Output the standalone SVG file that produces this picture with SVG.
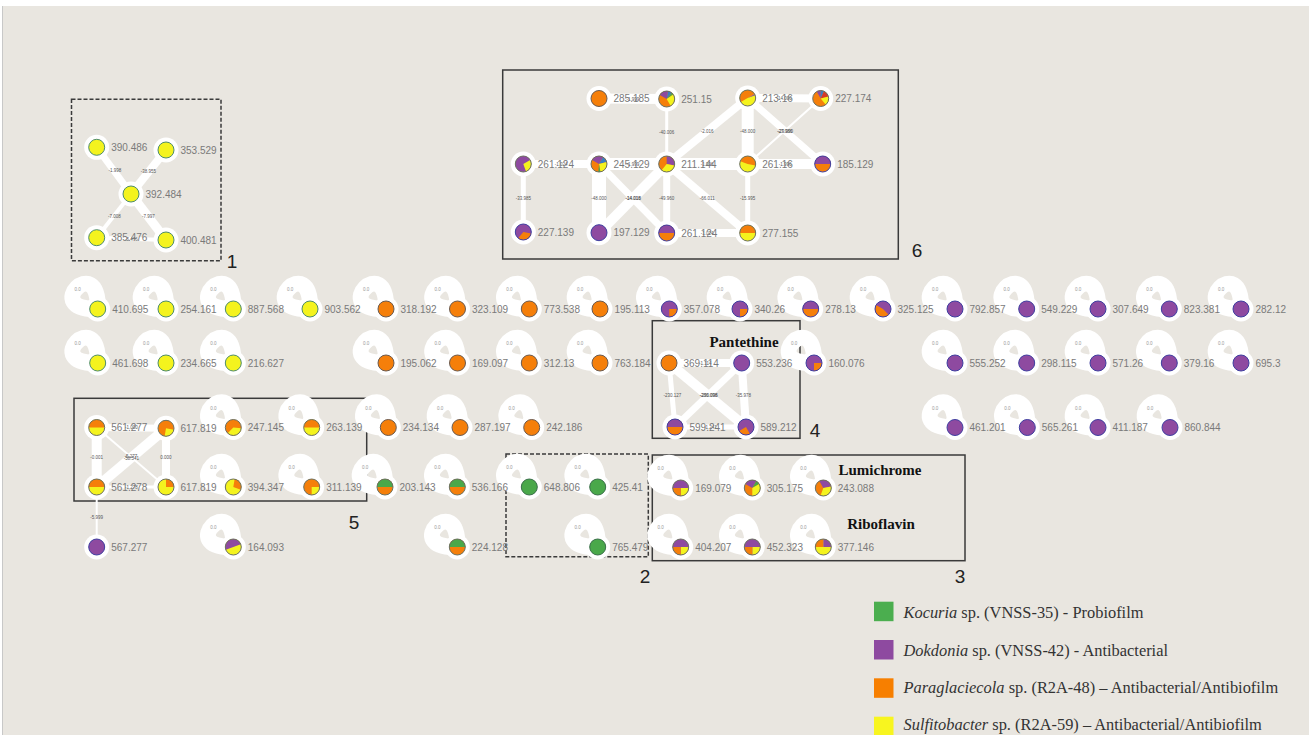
<svg xmlns="http://www.w3.org/2000/svg" xmlns:xlink="http://www.w3.org/1999/xlink" width="1309" height="735" viewBox="0 0 1309 735">
<style>
.lbl{font-family:"Liberation Sans",Arial,sans-serif;font-size:10px;fill:#7a7a7a}
.el{font-family:"Liberation Sans",Arial,sans-serif;font-size:4.5px;fill:#555;text-anchor:middle}
.ll{font-family:"Liberation Sans",Arial,sans-serif;font-size:4.5px;fill:#999;text-anchor:middle}
.e line{stroke:#fff;fill:none}
.loopP{stroke:#fff;stroke-width:16;fill:none}
.halo{fill:#fff}
.box{fill:none;stroke:#3a3a3a;stroke-width:1.5}
.dbox{fill:none;stroke:#3a3a3a;stroke-width:1.5;stroke-dasharray:4 2}
.num{font-family:"Liberation Sans",Arial,sans-serif;font-size:19px;fill:#222;text-anchor:middle}
.title{font-family:"Liberation Serif","Times New Roman",serif;font-weight:bold;font-size:15px;fill:#111;text-anchor:middle}
.leg{font-family:"Liberation Serif","Times New Roman",serif;font-size:16.4px;fill:#333}
.O{fill:#f57f0a}.P{fill:#8e4aa0}.Y{fill:#f4f31e}.G{fill:#4aa84a}.B{fill:#3b7ec0}.R{fill:#d43a2a}
.oY{fill:none;stroke:#4d8c6c;stroke-width:1}
.oO{fill:none;stroke:#6a5a50;stroke-width:1}
.oP{fill:none;stroke:#3e3ea0;stroke-width:1}
.oG{fill:none;stroke:#3a6f4a;stroke-width:1}
.oM{fill:none;stroke:#6b7060;stroke-width:1}
</style>
<defs>
<g id="loop"><path class="loopP" d="M0,0 C2,-58 -58,2 0,0"/><text class="ll" x="-20" y="-18">0.0</text></g>
<g id="pY"><circle class="halo" r="12.5"/><circle class="Y" r="8"/><circle class="oY" r="8"/></g>
<g id="pO"><circle class="halo" r="12.5"/><circle class="O" r="8"/><circle class="oO" r="8"/></g>
<g id="pP"><circle class="halo" r="12.5"/><circle class="P" r="8"/><circle class="oP" r="8"/></g>
<g id="pG"><circle class="halo" r="12.5"/><circle class="G" r="8"/><circle class="oG" r="8"/></g>
<g id="pOY"><circle class="halo" r="12.5"/><circle class="Y" r="8"/><path class="O" d="M-8,0A8,8 0 0 1 8,0Z"/><circle class="oM" r="8"/></g>
<g id="pPO"><circle class="halo" r="12.5"/><circle class="O" r="8"/><path class="P" d="M-8,0A8,8 0 0 1 8,0Z"/><circle class="oP" r="8"/></g>
<g id="pGO"><circle class="halo" r="12.5"/><circle class="O" r="8"/><path class="G" d="M-8,0A8,8 0 0 1 8,0Z"/><circle class="oM" r="8"/></g>
<g id="pPq"><circle class="halo" r="12.5"/><circle class="P" r="8"/><path class="O" d="M0,0L8,0A8,8 0 0 1 0,8Z"/><circle class="oP" r="8"/></g>
<g id="pPq2"><circle class="halo" r="12.5"/><circle class="P" r="8"/><path class="O" d="M0,0L4,6.93A8,8 0 0 1 -6.93,4Z"/><circle class="oP" r="8"/></g>
<g id="p325"><circle class="halo" r="12.5"/><circle class="P" r="8"/><path class="O" d="M0,0L5.66,5.66A8,8 0 0 1 -6.93,-4Z"/><circle class="oP" r="8"/></g>
<g id="p227139"><circle class="halo" r="12.5"/><circle class="P" r="8"/><path class="O" d="M0,0L7.88,1.39A8,8 0 0 1 -5.14,6.13Z"/><circle class="oP" r="8"/></g>
<g id="p261L"><circle class="halo" r="12.5"/><circle class="P" r="8"/><path class="Y" d="M0,0L6.93,-4A8,8 0 0 1 2.74,7.52Z"/><circle class="oM" r="8"/></g>
<g id="p245"><circle class="halo" r="12.5"/><circle class="O" r="8"/><path class="P" d="M0,0L-6.93,-4A8,8 0 0 1 4,-6.93Z"/><path class="B" d="M0,0L4,-6.93A8,8 0 0 1 7.73,-2.07Z"/><path class="Y" d="M0,0L7.73,-2.07A8,8 0 0 1 1.39,7.88Z"/><path class="G" d="M0,0L1.39,7.88A8,8 0 0 1 -0.7,7.97Z"/><circle class="oM" r="8"/></g>
<g id="p251"><circle class="halo" r="12.5"/><circle class="O" r="8"/><path class="P" d="M0,0L-6.93,-4A8,8 0 0 1 1.39,-7.88Z"/><path class="B" d="M0,0L1.39,-7.88A8,8 0 0 1 5.14,-6.13Z"/><path class="G" d="M0,0L5.14,-6.13A8,8 0 0 1 6.55,-4.59Z"/><path class="Y" d="M0,0L6.55,-4.59A8,8 0 0 1 4,6.93Z"/><circle class="oM" r="8"/></g>
<g id="p211"><circle class="halo" r="12.5"/><circle class="O" r="8"/><path class="P" d="M0,0L0,-8A8,8 0 0 1 7.88,1.39Z"/><path class="Y" d="M0,0L7.88,1.39A8,8 0 0 1 -5.14,6.13Z"/><circle class="oM" r="8"/></g>
<g id="p213"><circle class="halo" r="12.5"/><circle class="Y" r="8"/><path class="O" d="M0,0L-6.93,4A8,8 0 0 1 6.93,-4Z"/><path class="P" d="M0,0L6.93,-4A8,8 0 0 1 7.52,-2.74Z"/><circle class="oM" r="8"/></g>
<g id="p227174"><circle class="halo" r="12.5"/><circle class="O" r="8"/><path class="P" d="M0,0L-4,-6.93A8,8 0 0 1 0,-8Z"/><path class="B" d="M0,0L0,-8A8,8 0 0 1 3.38,-7.25Z"/><path class="R" d="M0,0L3.38,-7.25A8,8 0 0 1 7.73,-2.07Z"/><path class="Y" d="M0,0L7.73,-2.07A8,8 0 0 1 5.14,6.13Z"/><circle class="oM" r="8"/></g>
<g id="p261M"><circle class="halo" r="12.5"/><circle class="Y" r="8"/><path class="O" d="M0,0L-7.52,-2.74A8,8 0 0 1 7.88,1.39Z"/><circle class="oM" r="8"/></g>
<g id="p617T"><circle class="halo" r="12.5"/><circle class="O" r="8"/><path class="Y" d="M0,0L7.88,1.39A8,8 0 0 1 -1.39,7.88Z"/><circle class="oM" r="8"/></g>
<g id="p617B"><circle class="halo" r="12.5"/><circle class="Y" r="8"/><path class="O" d="M0,0L0,-8A8,8 0 0 1 8,0Z"/><circle class="oM" r="8"/></g>
<g id="p247"><circle class="halo" r="12.5"/><circle class="O" r="8"/><path class="Y" d="M0,0L7.97,0.7A8,8 0 0 1 -5.66,5.66Z"/><circle class="oM" r="8"/></g>
<g id="p394"><circle class="halo" r="12.5"/><circle class="Y" r="8"/><path class="O" d="M0,0L1.39,-7.88A8,8 0 0 1 7.52,2.74Z"/><circle class="oM" r="8"/></g>
<g id="p311"><circle class="halo" r="12.5"/><circle class="O" r="8"/><path class="Y" d="M0,0L8,0A8,8 0 0 1 0,8Z"/><circle class="oM" r="8"/></g>
<g id="p164"><circle class="halo" r="12.5"/><circle class="Y" r="8"/><path class="P" d="M0,0L-7.52,2.74A8,8 0 0 1 7.52,-2.74Z"/><circle class="oM" r="8"/></g>
<g id="pPYO"><circle class="halo" r="12.5"/><circle class="P" r="8"/><path class="Y" d="M0,0L8,0A8,8 0 0 1 0,8Z"/><path class="O" d="M0,0L0,8A8,8 0 0 1 -8,0Z"/><circle class="oM" r="8"/></g>
<g id="p305"><circle class="halo" r="12.5"/><circle class="O" r="8"/><path class="P" d="M0,0L-6.93,-4A8,8 0 0 1 4,-6.93Z"/><path class="G" d="M0,0L4,-6.93A8,8 0 0 1 6.93,-4Z"/><path class="Y" d="M0,0L6.93,-4A8,8 0 0 1 0,8Z"/><circle class="oM" r="8"/></g>
<g id="p243"><circle class="halo" r="12.5"/><circle class="O" r="8"/><path class="P" d="M0,0L-4,-6.93A8,8 0 0 1 7.88,-1.39Z"/><path class="Y" d="M0,0L7.88,-1.39A8,8 0 0 1 -2.74,7.52Z"/><circle class="oM" r="8"/></g>
<g id="p377"><circle class="halo" r="12.5"/><circle class="Y" r="8"/><path class="O" d="M0,0L-8,0A8,8 0 0 1 0,-8Z"/><path class="P" d="M0,0L0,-8A8,8 0 0 1 8,0Z"/><circle class="oM" r="8"/></g>
</defs>

<rect x="0" y="0" width="1309" height="735" fill="#ffffff"/>
<rect x="2" y="6" width="1307" height="729" fill="#e9e6e0"/>
<line x1="2.5" y1="6" x2="2.5" y2="735" stroke="#c8c8c8" stroke-width="1"/>

<g id="boxes">
<rect class="dbox" x="71.5" y="99.3" width="149.5" height="161.4"/>
<rect class="box" x="502.7" y="70" width="395.6" height="189"/>
<rect class="box" x="652.3" y="320.7" width="147.7" height="117.6"/>
<rect class="box" x="74" y="398.3" width="292.7" height="102.7"/>
<rect class="dbox" x="506" y="454" width="142.3" height="102.7"/>
<rect class="box" x="652.3" y="455" width="312.7" height="105.7"/>
<text class="num" x="232" y="268">1</text>
<text class="num" x="645" y="583">2</text>
<text class="num" x="960" y="583">3</text>
<text class="num" x="815" y="437">4</text>
<text class="num" x="354" y="529">5</text>
<text class="num" x="917" y="257">6</text>
<text class="title" x="744" y="347">Pantethine</text>
<text class="title" x="880" y="474.5">Lumichrome</text>
<text class="title" x="881" y="529">Riboflavin</text>
</g>

<g id="connectors" class="e">
<!-- box 1 -->
<line x1="96.7" y1="147.3" x2="131" y2="194" stroke-width="7"/>
<line x1="166" y1="150" x2="131" y2="194" stroke-width="8"/>
<line x1="131" y1="194" x2="96.7" y2="237.7" stroke-width="4"/>
<line x1="131" y1="194" x2="166" y2="240" stroke-width="9"/>
<line x1="96.7" y1="237.7" x2="166" y2="240" stroke-width="4"/>
<!-- box 6 -->
<line x1="599" y1="98.5" x2="666.7" y2="99" stroke-width="10"/>
<line x1="666.7" y1="99" x2="666.7" y2="164" stroke-width="3"/>
<line x1="523.3" y1="164" x2="599" y2="164" stroke-width="8"/>
<line x1="599" y1="164" x2="666.7" y2="164" stroke-width="12"/>
<line x1="523.3" y1="164" x2="523.3" y2="232" stroke-width="5"/>
<line x1="599" y1="164" x2="599" y2="232.7" stroke-width="14"/>
<line x1="599" y1="164" x2="666.7" y2="233" stroke-width="7"/>
<line x1="666.7" y1="164" x2="599" y2="232.7" stroke-width="10"/>
<line x1="666.7" y1="164" x2="666.7" y2="233" stroke-width="7"/>
<line x1="666.7" y1="164" x2="747.7" y2="98" stroke-width="8"/>
<line x1="666.7" y1="164" x2="747.7" y2="164" stroke-width="12"/>
<line x1="666.7" y1="164" x2="747.7" y2="233" stroke-width="8"/>
<line x1="747.7" y1="98" x2="747.7" y2="164" stroke-width="12"/>
<line x1="747.7" y1="98" x2="820.7" y2="98.5" stroke-width="8"/>
<line x1="747.7" y1="98" x2="822.7" y2="164" stroke-width="7"/>
<line x1="820.7" y1="98.5" x2="747.7" y2="164" stroke-width="2"/>
<line x1="747.7" y1="164" x2="822.7" y2="164" stroke-width="10"/>
<line x1="747.7" y1="164" x2="747.7" y2="233" stroke-width="5"/>
<line x1="666.7" y1="233" x2="747.7" y2="233" stroke-width="8"/>
<!-- box 4 -->
<line x1="669" y1="363" x2="741.7" y2="363" stroke-width="8"/>
<line x1="669" y1="363" x2="675" y2="427" stroke-width="5"/>
<line x1="669" y1="363" x2="746" y2="427" stroke-width="10"/>
<line x1="741.7" y1="363" x2="675" y2="427" stroke-width="7"/>
<line x1="741.7" y1="363" x2="746" y2="427" stroke-width="8"/>
<line x1="675" y1="427" x2="746" y2="427" stroke-width="5"/>
<!-- box 5 -->
<line x1="96.7" y1="427.5" x2="166" y2="428.3" stroke-width="7"/>
<line x1="96.7" y1="427.5" x2="96.7" y2="487" stroke-width="10"/>
<line x1="96.7" y1="427.5" x2="166" y2="487" stroke-width="2"/>
<line x1="166" y1="428.3" x2="96.7" y2="487" stroke-width="10"/>
<line x1="166" y1="428.3" x2="166" y2="487" stroke-width="8"/>
<line x1="96.7" y1="487" x2="166" y2="487" stroke-width="3"/>
<line x1="96.7" y1="487" x2="96.7" y2="547" stroke-width="2"/>
<!-- self loops -->
<use href="#loop" x="97.7" y="309"/><use href="#loop" x="166" y="309"/><use href="#loop" x="233.3" y="309"/><use href="#loop" x="310" y="309"/><use href="#loop" x="386" y="309"/><use href="#loop" x="457.5" y="309"/><use href="#loop" x="529.3" y="309"/><use href="#loop" x="600" y="309"/><use href="#loop" x="669.3" y="309"/><use href="#loop" x="740" y="309"/><use href="#loop" x="810.7" y="309"/><use href="#loop" x="883" y="309"/><use href="#loop" x="955" y="309"/><use href="#loop" x="1026.7" y="309"/><use href="#loop" x="1098" y="309"/><use href="#loop" x="1169.3" y="309"/><use href="#loop" x="1241" y="309"/>
<use href="#loop" x="97.7" y="363"/><use href="#loop" x="166" y="363"/><use href="#loop" x="233.3" y="363"/><use href="#loop" x="386" y="363"/><use href="#loop" x="457.5" y="363"/><use href="#loop" x="529.3" y="363"/><use href="#loop" x="600" y="363"/><use href="#loop" x="814" y="363"/><use href="#loop" x="955" y="363"/><use href="#loop" x="1026.7" y="363"/><use href="#loop" x="1098" y="363"/><use href="#loop" x="1169.3" y="363"/><use href="#loop" x="1241" y="363"/>
<use href="#loop" x="233.3" y="427.5"/><use href="#loop" x="311.7" y="427.5"/><use href="#loop" x="388.3" y="427.5"/><use href="#loop" x="460" y="427.5"/><use href="#loop" x="531.7" y="427.5"/><use href="#loop" x="955" y="427.5"/><use href="#loop" x="1027.3" y="427.5"/><use href="#loop" x="1098" y="427.5"/><use href="#loop" x="1170" y="427.5"/>
<use href="#loop" x="233.3" y="487"/><use href="#loop" x="311.7" y="487"/><use href="#loop" x="385" y="487"/><use href="#loop" x="457.3" y="487"/><use href="#loop" x="529.3" y="487"/><use href="#loop" x="597.7" y="487"/><use href="#loop" x="680.7" y="488"/><use href="#loop" x="752.3" y="488"/><use href="#loop" x="823.3" y="488"/>
<use href="#loop" x="233.3" y="547"/><use href="#loop" x="457.3" y="547"/><use href="#loop" x="597.7" y="547"/><use href="#loop" x="680.7" y="547"/><use href="#loop" x="752.3" y="547"/><use href="#loop" x="823.3" y="547"/>
<!-- edge labels -->
<text class="el" x="115" y="172">-1.998</text>
<text class="el" x="148.3" y="172.5">-38.955</text>
<text class="el" x="114.3" y="217.5">-7.008</text>
<text class="el" x="148.3" y="217.5">-7.997</text>
<text class="el" x="131.3" y="240.5">-5.476</text>
<text class="el" x="666.7" y="134">-40.006</text>
<text class="el" x="523.3" y="199.5">-33.985</text>
<text class="el" x="599" y="199.5">-48.000</text>
<text class="el" x="632.8" y="199.5">-14.016</text>
<text class="el" x="633.3" y="199.5">-14.018</text>
<text class="el" x="666.7" y="199.5">-49.960</text>
<text class="el" x="707.2" y="132.5">-2.016</text>
<text class="el" x="707.2" y="199.5">-66.011</text>
<text class="el" x="747.7" y="132.5">-48.000</text>
<text class="el" x="747.7" y="199.5">-15.995</text>
<text class="el" x="784.7" y="132.5">-27.986</text>
<text class="el" x="785.4" y="132.5">-29.990</text>
<text class="el" x="632.8" y="100.5">-1.999</text>
<text class="el" x="561.2" y="165.5">-1.024</text>
<text class="el" x="632.8" y="165.5">-1.999</text>
<text class="el" x="707.2" y="165.5">-1.996</text>
<text class="el" x="784.2" y="99.8">-14.000</text>
<text class="el" x="785.2" y="165.5">-1.996</text>
<text class="el" x="707.2" y="234.5">-1.024</text>
<text class="el" x="672.3" y="396.5">-230.127</text>
<text class="el" x="708.3" y="396.5">-286.098</text>
<text class="el" x="708.8" y="396.5">-230.096</text>
<text class="el" x="743.5" y="396.5">-35.978</text>
<text class="el" x="705.3" y="364.5">-1.114</text>
<text class="el" x="710.5" y="428.5">-1.241</text>
<text class="el" x="96.7" y="459">-0.001</text>
<text class="el" x="131.5" y="459.5">-58.541</text>
<text class="el" x="131" y="457.5">-5.277</text>
<text class="el" x="166" y="459">0.000</text>
<text class="el" x="131.3" y="429">-1.000</text>
<text class="el" x="131.3" y="488.5">-1.278</text>
<text class="el" x="96.7" y="518.5">-5.999</text>
</g>

<g id="nodes">
<g id="n390_486" transform="translate(96.7,147.3)"><use href="#pY"/><text class="lbl" x="14.5" y="3.6">390.486</text></g>
<g id="n353_529" transform="translate(166,150)"><use href="#pY"/><text class="lbl" x="14.5" y="3.6">353.529</text></g>
<g id="n392_484" transform="translate(131,194)"><use href="#pY"/><text class="lbl" x="14.5" y="3.6">392.484</text></g>
<g id="n385_476" transform="translate(96.7,237.7)"><use href="#pY"/><text class="lbl" x="14.5" y="3.6">385.476</text></g>
<g id="n400_481" transform="translate(166,240)"><use href="#pY"/><text class="lbl" x="14.5" y="3.6">400.481</text></g>

<g id="n285_185" transform="translate(599,98.5)"><use href="#pO"/><text class="lbl" x="14.5" y="3.6">285.185</text></g>
<g id="n251_15" transform="translate(666.7,99)"><use href="#p251"/><text class="lbl" x="14.5" y="3.6">251.15</text></g>
<g id="n213_16" transform="translate(747.7,98)"><use href="#p213"/><text class="lbl" x="14.5" y="3.6">213.16</text></g>
<g id="n227_174" transform="translate(820.7,98.5)"><use href="#p227174"/><text class="lbl" x="14.5" y="3.6">227.174</text></g>
<g id="n261_124a" transform="translate(523.3,164)"><use href="#p261L"/><text class="lbl" x="14.5" y="3.6">261.124</text></g>
<g id="n245_129" transform="translate(599,164)"><use href="#p245"/><text class="lbl" x="14.5" y="3.6">245.129</text></g>
<g id="n211_144" transform="translate(666.7,164)"><use href="#p211"/><text class="lbl" x="14.5" y="3.6">211.144</text></g>
<g id="n261_16" transform="translate(747.7,164)"><use href="#p261M"/><text class="lbl" x="14.5" y="3.6">261.16</text></g>
<g id="n185_129" transform="translate(822.7,164)"><use href="#pPO"/><text class="lbl" x="14.5" y="3.6">185.129</text></g>
<g id="n227_139" transform="translate(523.3,232)"><use href="#p227139"/><text class="lbl" x="14.5" y="3.6">227.139</text></g>
<g id="n197_129" transform="translate(599,232.7)"><use href="#pP"/><text class="lbl" x="14.5" y="3.6">197.129</text></g>
<g id="n261_124b" transform="translate(666.7,233)"><use href="#pPO"/><text class="lbl" x="14.5" y="3.6">261.124</text></g>
<g id="n277_155" transform="translate(747.7,233)"><use href="#pOY"/><text class="lbl" x="14.5" y="3.6">277.155</text></g>

<g id="n410_695" transform="translate(97.7,309)"><use href="#pY"/><text class="lbl" x="14.5" y="3.6">410.695</text></g>
<g id="n254_161" transform="translate(166,309)"><use href="#pY"/><text class="lbl" x="14.5" y="3.6">254.161</text></g>
<g id="n887_568" transform="translate(233.3,309)"><use href="#pY"/><text class="lbl" x="14.5" y="3.6">887.568</text></g>
<g id="n903_562" transform="translate(310,309)"><use href="#pY"/><text class="lbl" x="14.5" y="3.6">903.562</text></g>
<g id="n318_192" transform="translate(386,309)"><use href="#pO"/><text class="lbl" x="14.5" y="3.6">318.192</text></g>
<g id="n323_109" transform="translate(457.5,309)"><use href="#pO"/><text class="lbl" x="14.5" y="3.6">323.109</text></g>
<g id="n773_538" transform="translate(529.3,309)"><use href="#pO"/><text class="lbl" x="14.5" y="3.6">773.538</text></g>
<g id="n195_113" transform="translate(600,309)"><use href="#pO"/><text class="lbl" x="14.5" y="3.6">195.113</text></g>
<g id="n357_078" transform="translate(669.3,309)"><use href="#pPq"/><text class="lbl" x="14.5" y="3.6">357.078</text></g>
<g id="n340_26" transform="translate(740,309)"><use href="#pPq"/><text class="lbl" x="14.5" y="3.6">340.26</text></g>
<g id="n278_13" transform="translate(810.7,309)"><use href="#pPO"/><text class="lbl" x="14.5" y="3.6">278.13</text></g>
<g id="n325_125" transform="translate(883,309)"><use href="#p325"/><text class="lbl" x="14.5" y="3.6">325.125</text></g>
<g id="n792_857" transform="translate(955,309)"><use href="#pP"/><text class="lbl" x="14.5" y="3.6">792.857</text></g>
<g id="n549_229" transform="translate(1026.7,309)"><use href="#pP"/><text class="lbl" x="14.5" y="3.6">549.229</text></g>
<g id="n307_649" transform="translate(1098,309)"><use href="#pP"/><text class="lbl" x="14.5" y="3.6">307.649</text></g>
<g id="n823_381" transform="translate(1169.3,309)"><use href="#pP"/><text class="lbl" x="14.5" y="3.6">823.381</text></g>
<g id="n282_12" transform="translate(1241,309)"><use href="#pP"/><text class="lbl" x="14.5" y="3.6">282.12</text></g>

<g id="n461_698" transform="translate(97.7,363)"><use href="#pY"/><text class="lbl" x="14.5" y="3.6">461.698</text></g>
<g id="n234_665" transform="translate(166,363)"><use href="#pY"/><text class="lbl" x="14.5" y="3.6">234.665</text></g>
<g id="n216_627" transform="translate(233.3,363)"><use href="#pY"/><text class="lbl" x="14.5" y="3.6">216.627</text></g>
<g id="n195_062" transform="translate(386,363)"><use href="#pO"/><text class="lbl" x="14.5" y="3.6">195.062</text></g>
<g id="n169_097" transform="translate(457.5,363)"><use href="#pO"/><text class="lbl" x="14.5" y="3.6">169.097</text></g>
<g id="n312_13" transform="translate(529.3,363)"><use href="#pO"/><text class="lbl" x="14.5" y="3.6">312.13</text></g>
<g id="n763_184" transform="translate(600,363)"><use href="#pO"/><text class="lbl" x="14.5" y="3.6">763.184</text></g>
<g id="n369_114" transform="translate(669,363)"><use href="#pO"/><text class="lbl" x="14.5" y="3.6">369.114</text></g>
<g id="n553_236" transform="translate(741.7,363)"><use href="#pP"/><text class="lbl" x="14.5" y="3.6">553.236</text></g>
<g id="n160_076" transform="translate(814,363)"><use href="#pPq"/><text class="lbl" x="14.5" y="3.6">160.076</text></g>
<g id="n555_252" transform="translate(955,363)"><use href="#pP"/><text class="lbl" x="14.5" y="3.6">555.252</text></g>
<g id="n298_115" transform="translate(1026.7,363)"><use href="#pP"/><text class="lbl" x="14.5" y="3.6">298.115</text></g>
<g id="n571_26" transform="translate(1098,363)"><use href="#pP"/><text class="lbl" x="14.5" y="3.6">571.26</text></g>
<g id="n379_16" transform="translate(1169.3,363)"><use href="#pP"/><text class="lbl" x="14.5" y="3.6">379.16</text></g>
<g id="n695_3" transform="translate(1241,363)"><use href="#pP"/><text class="lbl" x="14.5" y="3.6">695.3</text></g>

<g id="n561_277" transform="translate(96.7,427.5)"><use href="#pOY"/><text class="lbl" x="14.5" y="3.6">561.277</text></g>
<g id="n617_819a" transform="translate(166,428.3)"><use href="#p617T"/><text class="lbl" x="14.5" y="3.6">617.819</text></g>
<g id="n247_145" transform="translate(233.3,427.5)"><use href="#p247"/><text class="lbl" x="14.5" y="3.6">247.145</text></g>
<g id="n263_139" transform="translate(311.7,427.5)"><use href="#pOY"/><text class="lbl" x="14.5" y="3.6">263.139</text></g>
<g id="n234_134" transform="translate(388.3,427.5)"><use href="#pO"/><text class="lbl" x="14.5" y="3.6">234.134</text></g>
<g id="n287_197" transform="translate(460,427.5)"><use href="#pO"/><text class="lbl" x="14.5" y="3.6">287.197</text></g>
<g id="n242_186" transform="translate(531.7,427.5)"><use href="#pO"/><text class="lbl" x="14.5" y="3.6">242.186</text></g>
<g id="n599_241" transform="translate(675,427)"><use href="#pPO"/><text class="lbl" x="14.5" y="3.6">599.241</text></g>
<g id="n589_212" transform="translate(746,427)"><use href="#pPq2"/><text class="lbl" x="14.5" y="3.6">589.212</text></g>
<g id="n461_201" transform="translate(955,427.5)"><use href="#pP"/><text class="lbl" x="14.5" y="3.6">461.201</text></g>
<g id="n565_261" transform="translate(1027.3,427.5)"><use href="#pP"/><text class="lbl" x="14.5" y="3.6">565.261</text></g>
<g id="n411_187" transform="translate(1098,427.5)"><use href="#pP"/><text class="lbl" x="14.5" y="3.6">411.187</text></g>
<g id="n860_844" transform="translate(1170,427.5)"><use href="#pP"/><text class="lbl" x="14.5" y="3.6">860.844</text></g>

<g id="n561_278" transform="translate(96.7,487)"><use href="#pOY"/><text class="lbl" x="14.5" y="3.6">561.278</text></g>
<g id="n617_819b" transform="translate(166,487)"><use href="#p617B"/><text class="lbl" x="14.5" y="3.6">617.819</text></g>
<g id="n394_347" transform="translate(233.3,487)"><use href="#p394"/><text class="lbl" x="14.5" y="3.6">394.347</text></g>
<g id="n311_139" transform="translate(311.7,487)"><use href="#p311"/><text class="lbl" x="14.5" y="3.6">311.139</text></g>
<g id="n203_143" transform="translate(385,487)"><use href="#pGO"/><text class="lbl" x="14.5" y="3.6">203.143</text></g>
<g id="n536_166" transform="translate(457.3,487)"><use href="#pGO"/><text class="lbl" x="14.5" y="3.6">536.166</text></g>
<g id="n648_806" transform="translate(529.3,487)"><use href="#pG"/><text class="lbl" x="14.5" y="3.6">648.806</text></g>
<g id="n425_41" transform="translate(597.7,487)"><use href="#pG"/><text class="lbl" x="14.5" y="3.6">425.41</text></g>
<g id="n169_079" transform="translate(680.7,488)"><use href="#pPYO"/><text class="lbl" x="14.5" y="3.6">169.079</text></g>
<g id="n305_175" transform="translate(752.3,488)"><use href="#p305"/><text class="lbl" x="14.5" y="3.6">305.175</text></g>
<g id="n243_088" transform="translate(823.3,488)"><use href="#p243"/><text class="lbl" x="14.5" y="3.6">243.088</text></g>

<g id="n567_277" transform="translate(96.7,547)"><use href="#pP"/><text class="lbl" x="14.5" y="3.6">567.277</text></g>
<g id="n164_093" transform="translate(233.3,547)"><use href="#p164"/><text class="lbl" x="14.5" y="3.6">164.093</text></g>
<g id="n224_128" transform="translate(457.3,547)"><use href="#pGO"/><text class="lbl" x="14.5" y="3.6">224.128</text></g>
<g id="n765_479" transform="translate(597.7,547)"><use href="#pG"/><text class="lbl" x="14.5" y="3.6">765.479</text></g>
<g id="n404_207" transform="translate(680.7,547)"><use href="#pPYO"/><text class="lbl" x="14.5" y="3.6">404.207</text></g>
<g id="n452_323" transform="translate(752.3,547)"><use href="#pPYO"/><text class="lbl" x="14.5" y="3.6">452.323</text></g>
<g id="n377_146" transform="translate(823.3,547)"><use href="#p377"/><text class="lbl" x="14.5" y="3.6">377.146</text></g>
</g>

<g id="legend">
<rect x="874" y="601.7" width="19.5" height="19.5" fill="#4bae4f"/>
<rect x="874" y="640" width="19.5" height="19.5" fill="#8e4aa0"/>
<rect x="874" y="678.3" width="19.5" height="19.5" fill="#f77f00"/>
<rect x="874" y="716.7" width="19.5" height="19.5" fill="#f8f51f"/>
<text class="leg" x="903.5" y="617.5"><tspan font-style="italic">Kocuria</tspan> sp. (VNSS-35) - Probiofilm</text>
<text class="leg" x="903.5" y="655.5"><tspan font-style="italic">Dokdonia</tspan> sp. (VNSS-42) - Antibacterial</text>
<text class="leg" x="903.5" y="692.5"><tspan font-style="italic">Paraglaciecola</tspan> sp. (R2A-48) – Antibacterial/Antibiofilm</text>
<text class="leg" x="903.5" y="730"><tspan font-style="italic">Sulfitobacter</tspan> sp. (R2A-59) – Antibacterial/Antibiofilm</text>
</g>
</svg>
